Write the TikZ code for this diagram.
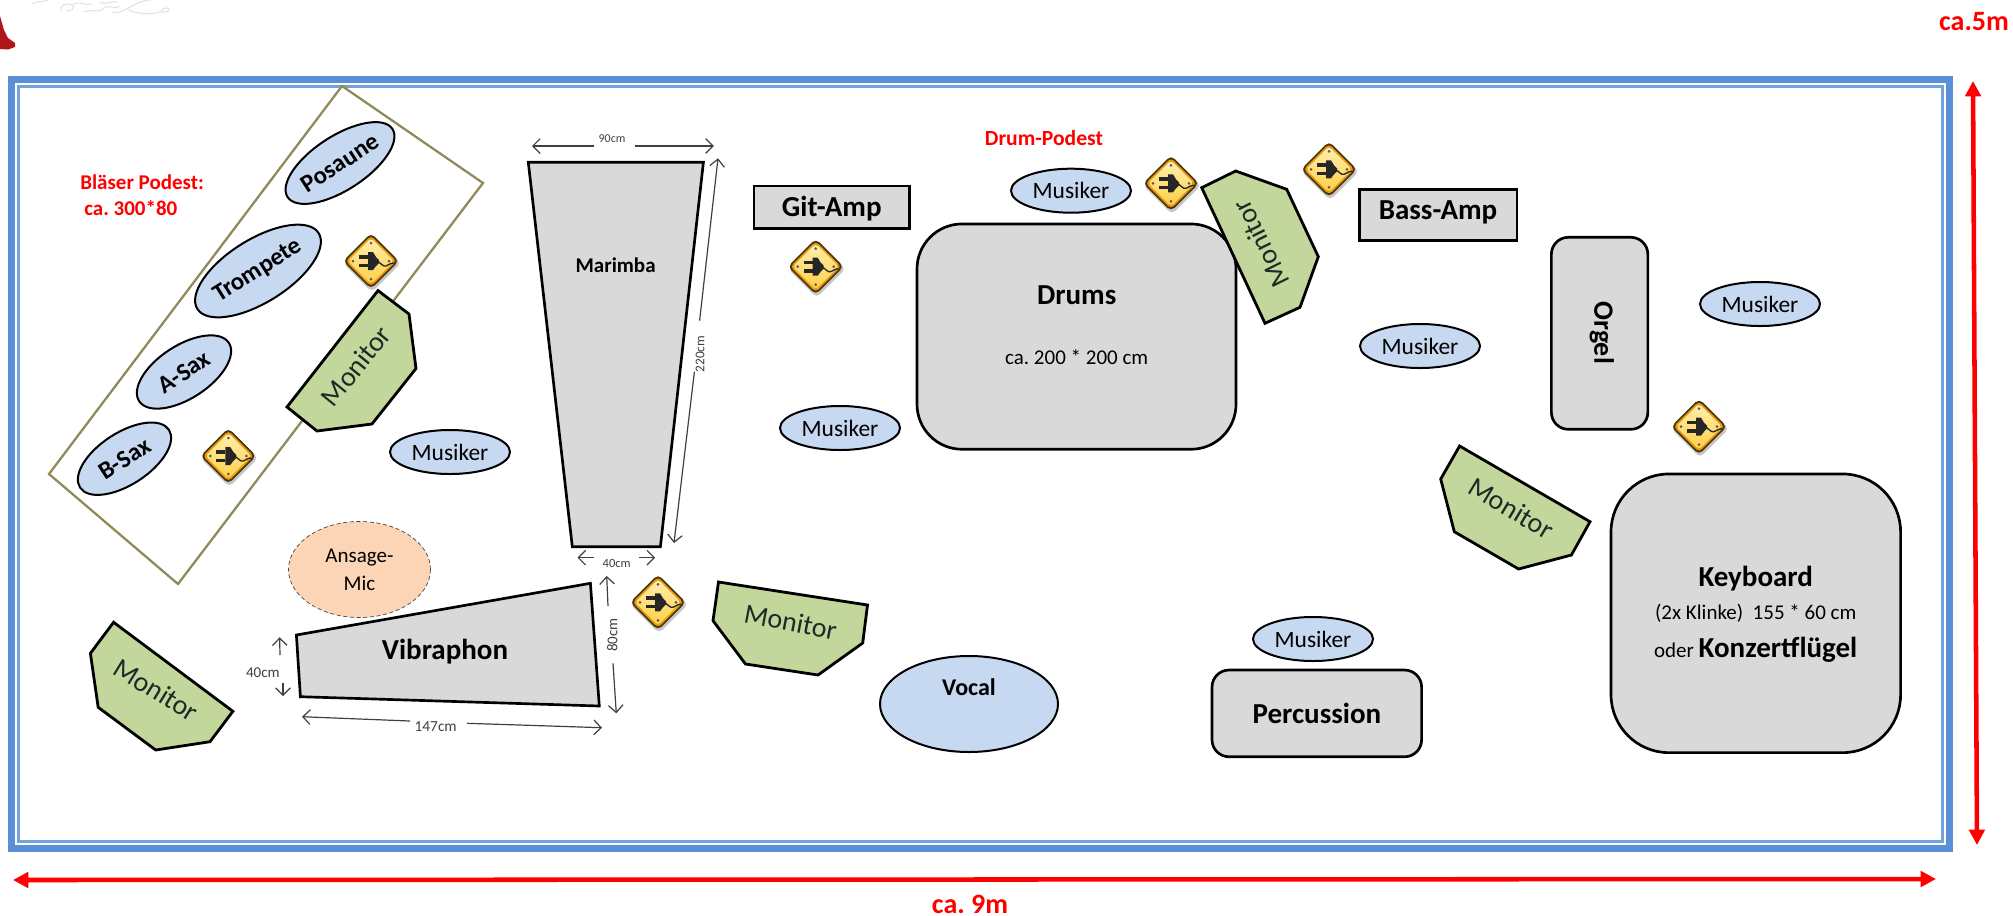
\documentclass[tikz,border=0pt]{standalone}
\usepackage{fontspec}
\setmainfont{Carlito}
\usetikzlibrary{shapes.geometric,arrows.meta}
\definecolor{frameblue}{HTML}{5A8FD8}
\definecolor{boxgray}{HTML}{D9D9D9}
\definecolor{musblue}{HTML}{C6D9F1}
\definecolor{mongreen}{HTML}{C3D69B}
\definecolor{montext}{HTML}{1E2A26}
\definecolor{micpeach}{HTML}{FBD5B5}
\definecolor{podest}{HTML}{908958}
\definecolor{dimgray}{HTML}{404040}
\definecolor{plugtop}{HTML}{FFEFB0}
\definecolor{plugmid}{HTML}{FB9C12}
\definecolor{plugbot}{HTML}{FFCF45}
\definecolor{plugrim}{HTML}{E79A12}
\definecolor{plugedge}{HTML}{4A3408}
\definecolor{cornerred}{HTML}{B01518}
\newcommand{\fpx}[1]{\fontsize{#1}{#1}\selectfont}
\newcommand{\musk}{\raisebox{-0.9pt}{Musiker}}
\tikzset{
  x=0.75pt,y=-0.75pt,
  ell/.style={shape=ellipse,draw=black,line width=1.5pt,fill=musblue,inner sep=0pt,text=black},
  mus/.style={ell,minimum width=120*0.75pt,minimum height=44*0.75pt,font=\fpx{17.6}},
  sax/.style={ell,font=\fpx{18.6}\bfseries},
  box/.style={draw=black,line width=2pt,fill=boxgray,inner sep=0pt,text=black},
  big/.style={font=\fpx{21.75}\bfseries,inner sep=0pt},
  mid/.style={font=\fpx{15.75},inner sep=0pt},
  mon/.style={draw=black,line width=2.1pt,fill=mongreen,line join=miter},
  montxt/.style={font=\fpx{21},text=montext,inner sep=0pt},
  dim/.style={draw=dimgray,line width=0.9pt,-{Straight Barb[length=5.5pt,width=11pt,line width=0.9pt]}},
  dimtxt/.style={text=dimgray,inner sep=0pt},
  redar/.style={draw=red,line width=3.4pt,{Triangle[length=11.5pt,width=11.5pt]}-{Triangle[length=11.5pt,width=11.5pt]}},
  redtxt/.style={text=red,inner sep=0pt,font=\fpx{15.75}\bfseries},
  plug/.pic={
    \fill[black!22,rounded corners=5*0.75pt] (1,-27)--(30,2)--(1,31)--(-28,2)--cycle;
    \fill[rounded corners=5*0.75pt,fill=plugedge] (0,-28)--(28,0)--(0,28)--(-28,0)--cycle;
    \fill[rounded corners=4*0.75pt,fill=plugrim] (0,-25.5)--(25.5,0)--(0,25.5)--(-25.5,0)--cycle;
    \shade[rounded corners=3.5*0.75pt,top color=plugtop,middle color=plugmid,bottom color=plugbot] (0,-23)--(23,0)--(0,23)--(-23,0)--cycle;
    \foreach \p in {(0,-18),(18,0),(0,18),(-18,0)} \fill[black!65] \p circle (1.5);
    \fill[black!85] (-3,-9)--(2,-9)--(5,-4)--(8,-1)--(8,2)--(5,5)--(2,9)--(-3,9)--cycle;
    \fill[black!85] (-12,-6) rectangle (-3,-2.5);
    \fill[black!85] (-12,2.5) rectangle (-3,6);
    \draw[black!85,line width=1pt] (6,0) .. controls (10,2) and (12,6) .. (15,5) .. controls (18,4) and (19,2) .. (23,2);
  }
}
\begin{document}
\frenchspacing
\begin{tikzpicture}
\useasboundingbox (0,0) rectangle (2013,915);
\fill[white] (0,0) rectangle (2013,915);

% corner remnants
\fill[cornerred] (0,16) -- (4,30) -- (8,38) -- (15,43) -- (15,47) -- (8,49.5) -- (0,49) -- cycle;
\begin{scope}[draw=black!11,line width=0.8pt]
\draw (32,4) .. controls (38,0) and (42,3) .. (48,0);
\draw (62,12) .. controls (58,6) and (66,2) .. (72,5) .. controls (76,8) and (70,13) .. (66,10);
\draw (72,5) .. controls (80,0) and (84,6) .. (92,4);
\draw (84,12) .. controls (90,8) and (98,14) .. (104,8) .. controls (108,4) and (114,10) .. (120,6);
\draw (100,2) .. controls (106,6) and (112,0) .. (118,2);
\draw (112,12) .. controls (120,14) and (128,8) .. (136,4) .. controls (140,2) and (146,0) .. (150,0);
\draw (128,10) .. controls (138,14) and (150,15) .. (160,12) .. controls (170,13) and (172,8) .. (166,8) .. controls (162,8) and (162,12) .. (160,12);
\end{scope}

% hall frame
\draw[frameblue!70!white,line width=5.9pt] (11.5,79.5) rectangle (1949.5,848.5);
\draw[frameblue,line width=5pt] (11.5,79.5) rectangle (1949.5,848.5);
\draw[frameblue!85!white,line width=2pt] (18.7,86.5) rectangle (1942.7,841.5);

% overall dimensions
\coordinate (vt) at (1973,81);
\coordinate (vb) at (1977,845);
\coordinate (hl) at (13,880);
\coordinate (hr) at (1936,879);
\draw[redar] (vt) -- (vb);
\draw[redar] (hl) -- (hr);
\node[redtxt,font=\fpx{21}\bfseries] (w) at (970,904) {ca. 9m};
\node[redtxt,font=\fpx{21}\bfseries] (h) at (1974,22) {ca.5m};
\node[redtxt,anchor=west] (bp) at (80,182) {Bläser Podest:};
\node[redtxt,anchor=west] (bq) at (84,208) {ca. 300*80};
\node[redtxt,font=\fpx{16.2}\bfseries] (dp) at (1044,138) {Drum-Podest};

% wind riser
\draw[draw=podest,line width=1.7pt,line join=miter] (342,86) -- (483,183) -- (178,584) -- (49,474) -- cycle;
\node[sax,minimum width=125*0.75pt,minimum height=54*0.75pt,rotate=33] (pos) at (340,163) {Posaune};
\node[sax,minimum width=143*0.75pt,minimum height=63*0.75pt,rotate=32] (tro) at (258,271) {Trompete};
\node[sax,minimum width=107*0.75pt,minimum height=53*0.75pt,rotate=33] (asx) at (184,372) {A-Sax};
\node[sax,minimum width=106*0.75pt,minimum height=52*0.75pt,rotate=33] (bsx) at (124.5,458.7) {B-Sax};

% microphone
\node[shape=ellipse,draw=black!75,densely dashed,line width=0.5pt,fill=micpeach,inner sep=0pt,minimum width=142*0.75pt,minimum height=96*0.75pt] (mic) at (359.5,569.5) {};
\node[font=\fpx{15.75},inner sep=0pt] (mict) at (359.5,557.5) {Ansage-};
\node[font=\fpx{15.75},inner sep=0pt] (micu) at (359.5,583.5) {Mic};

% marimba
\draw[box] (528.3,162.3) -- (703.4,162.3) -- (660.4,546.7) -- (572.3,546.7) -- cycle;
\node[big,font=\fpx{15.75}\bfseries] (mar) at (615.6,265) {Marimba};
\coordinate (a1) at (594,146);\coordinate (a2) at (532,146);
\coordinate (a3) at (634.5,146);\coordinate (a4) at (713.8,146);
\draw[dim] (a1) -- (a2);
\draw[dim] (a3) -- (a4);
\node[dimtxt,font=\fpx{9}] (d90) at (612,139) {90cm};
\coordinate (b1) at (699.6,320.7);\coordinate (b2) at (718,158.3);
\coordinate (b3) at (694.4,371.7);\coordinate (b4) at (674,543);
\draw[dim] (b1) -- (b2);
\draw[dim] (b3) -- (b4);
\node[dimtxt,font=\fpx{10},rotate=90] (d220) at (700,354) {220cm};
\coordinate (c1) at (593.8,557.7);\coordinate (c2) at (577.5,557.7);
\coordinate (c3) at (639.3,557.7);\coordinate (c4) at (655.2,557.7);
\draw[dim] (c1) -- (c2);
\draw[dim] (c3) -- (c4);
\node[dimtxt,font=\fpx{9.4}] (d40a) at (616.7,563.3) {40cm};

% vibraphone
\draw[box] (296.4,635) -- (590.4,583.3) -- (599.3,706) -- (300.4,696.7) -- cycle;
\node[big] (vib) at (445,651.5) {Vibraphon};
\coordinate (e1) at (608,606);\coordinate (e2) at (606.7,576);
\coordinate (e3) at (613,663.3);\coordinate (e4) at (616.3,713.3);
\draw[dim] (e1) -- (e2);
\draw[dim] (e3) -- (e4);
\node[dimtxt,font=\fpx{11.25},rotate=90] (d80) at (612.3,635) {80cm};
\coordinate (f1) at (410,721);\coordinate (f2) at (302,716.7);
\coordinate (f3) at (467,723.3);\coordinate (f4) at (602,727.7);
\draw[dim] (f1) -- (f2);
\draw[dim] (f3) -- (f4);
\node[dimtxt,font=\fpx{11.5}] (d147) at (435.7,726.7) {147cm};
\coordinate (g1) at (280,655);\coordinate (g2) at (279.6,637.3);
\coordinate (g3) at (283,683.3);\coordinate (g4) at (283,696);
\draw[dim] (g1) -- (g2);
\draw[dim] (g3) -- (g4);
\node[dimtxt,font=\fpx{11.25}] (d40b) at (262.9,672.3) {40cm};

% instruments
\node[box,minimum width=155.6*0.75pt,minimum height=42.7*0.75pt] (git) at (831.8,207.3) {};
\node[big] (gitt) at (831.8,209) {Git-Amp};
\node[box,minimum width=157.4*0.75pt,minimum height=51*0.75pt] (bass) at (1438.3,215.2) {};
\node[big] (basst) at (1438,212.5) {Bass-Amp};
\node[box,rounded corners=45*0.75pt,minimum width=319*0.75pt,minimum height=225.3*0.75pt] (dru) at (1076.5,336.6) {};
\node[big] (drut) at (1076.7,295) {Drums};
\node[mid] (drus) at (1076.7,357) {ca. 200 * 200 cm};
\node[box,rounded corners=17*0.75pt,minimum width=96.5*0.75pt,minimum height=192*0.75pt] (org) at (1599.6,333.3) {};
\node[big,font=\fpx{21}\bfseries,rotate=-90] (orgt) at (1601.8,332.7) {Orgel};
\node[box,rounded corners=58*0.75pt,minimum width=289.6*0.75pt,minimum height=278.7*0.75pt] (key) at (1755.8,613.3) {};
\node[big] (keyt) at (1755.7,578.5) {Keyboard};
\node[mid] (keys) at (1755.7,613) {(2x Klinke)\ \ 155 * 60 cm};
\node[mid] (keyo) at (1755.7,650) {oder {\fpx{21.75}\bfseries Konzertflügel}};
\node[box,rounded corners=17*0.75pt,minimum width=209.6*0.75pt,minimum height=86.7*0.75pt] (per) at (1316.8,713.4) {};
\node[big] (pert) at (1316.9,713) {Percussion};

% singers and musicians
\node[ell,minimum width=178*0.75pt,minimum height=96*0.75pt] (voc) at (969,704) {};
\node[inner sep=0pt,font=\fpx{18}\bfseries] (voct) at (969,687) {Vocal};
\node[mus] (m1) at (450,452) {\musk};
\node[mus] (m2) at (1071,190.7) {\musk};
\node[mus] (m3) at (840,428) {\musk};
\node[mus] (m4) at (1420,346) {\musk};
\node[mus] (m5) at (1760,304) {\musk};
\node[mus] (m6) at (1313,639) {\musk};

% monitors
\draw[mon] (378,290.6) -- (409,314) -- (416,368.5) -- (372,424) -- (317,431) -- (287,407) -- cycle;
\node[montxt,rotate=51] (mo1) at (356,366) {Monitor};
\draw[mon] (718.5,582) -- (867.5,605) -- (862.7,643) -- (818,675) -- (745.5,664) -- (713,620.7) -- cycle;
\node[montxt,rotate=-11] (mo2) at (790.6,621.7) {Monitor};
\draw[mon] (1235.7,171) -- (1286.7,189.3) -- (1318.3,256.7) -- (1300,307.3) -- (1265,323.3) -- (1201.7,187.7) -- cycle;
\node[montxt,rotate=116.5] (mo3) at (1260.7,244) {Monitor};
\draw[mon] (1459.6,446) -- (1590,521.7) -- (1571.4,555) -- (1518.6,569) -- (1454.3,531.7) -- (1440.7,479) -- cycle;
\node[montxt,rotate=-31] (mo4) at (1511.4,508.3) {Monitor};
\draw[mon] (113.6,622.3) -- (232.9,711.3) -- (210,741.7) -- (155.7,750) -- (98.2,707.3) -- (90.4,653.3) -- cycle;
\node[montxt,rotate=-31.6] (mo5) at (156.4,690) {Monitor};

% power sockets
\pic at (371,261) {plug};
\pic at (228.3,456) {plug};
\pic at (658,602.3) {plug};
\pic at (815.7,266.7) {plug};
\pic at (1171,183.3) {plug};
\pic at (1329,169.3) {plug};
\pic at (1699,426.7) {plug};
\end{tikzpicture}
\end{document}
